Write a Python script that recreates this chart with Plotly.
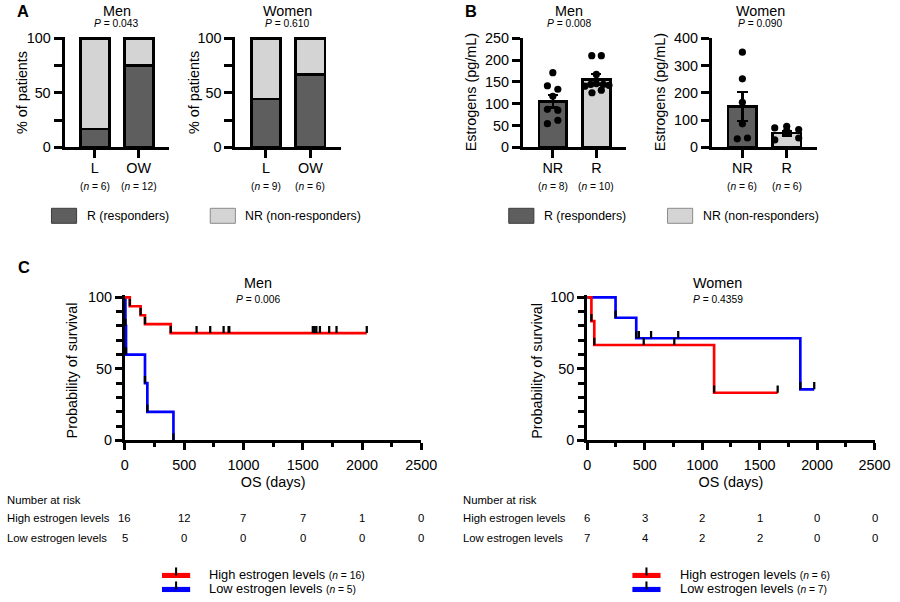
import plotly.graph_objects as go

# Measured rendering: picture = 0.973 * (page px), figure sits 8 px into the page.
S = 0.973
K = 1 / S
OFF = 8
W, H = 906, 602
FONT = "Liberation Sans, Arial, Helvetica, sans-serif"
DARK = "#5e5e5e"
LIGHT = "#d4d4d4"
RED = "#ff0000"
BLUE = "#0000ff"

# ---------------- DATA ----------------
# Panel A : % of patients (R = responders, NR = non-responders)
a_categories = ["L", "OW"]
a_men_n = [6, 12]
a_women_n = [9, 6]
a_men_r = [16.7, 75.0]
a_men_nr = [83.3, 25.0]
a_women_r = [44.4, 66.7]
a_women_nr = [55.6, 33.3]
a_men_p = "0.043"
a_women_p = "0.610"

# Panel B : estrogens (pg/mL)
b_categories = ["NR", "R"]
b_men_n = [8, 10]
b_women_n = [6, 6]
b_men_mean = [105, 156]
b_men_sem = [14, 12]
b_women_mean = [150, 52]
b_women_sem = [54, 9]
b_men_nr_pts = [171, 141, 133, 117, 87, 85, 62, 54]
b_men_r_pts = [210, 210, 167, 140, 144, 146, 144, 142, 125, 131]
b_women_nr_pts = [349, 251, 165, 86, 31, 34]
b_women_r_pts = [71, 77, 65, 27, 34, 61]
b_men_p = "0.008"
b_women_p = "0.090"

# horizontal scatter of the dots (category units)
b_men_nr_jit = [0, -0.125, 0.115, 0, -0.125, 0.115, 0.115, -0.125]
b_men_r_jit = [-0.105, 0.115, 0, -0.265, -0.13, 0, 0.16, 0.29, -0.1, 0.115]
b_women_nr_jit = [0, 0, 0, 0, -0.115, 0.115]
b_women_r_jit = [-0.27, 0, 0.27, -0.27, 0.27, 0]

# Panel C : Kaplan-Meier overall survival (days, %)
men_high_t = [0, 42, 133, 170, 387, 2040]
men_high_s = [100, 93.75, 87.5, 81.25, 75, 75]
men_high_cens = [605, 720, 833, 875, 881, 1585, 1600, 1615, 1645, 1723, 1785, 2040]
men_low_t = [0, 5, 10, 170, 190, 410]
men_low_s = [100, 80, 60, 40, 20, 0]
men_low_cens = []

women_high_t = [0, 37, 62, 1104, 1657]
women_high_s = [100, 83.33, 66.67, 33.33, 33.33]
women_high_cens = [492, 758, 1657]
women_low_t = [0, 247, 427, 1854, 1975]
women_low_s = [100, 85.71, 71.43, 35.71, 35.71]
women_low_cens = [450, 556, 792, 1975]

risk_days = [0, 500, 1000, 1500, 2000, 2500]
men_risk_high = [16, 12, 7, 7, 1, 0]
men_risk_low = [5, 0, 0, 0, 0, 0]
women_risk_high = [6, 3, 2, 1, 0, 0]
women_risk_low = [7, 4, 2, 2, 0, 0]
men_n_high, men_n_low = 16, 5
women_n_high, women_n_low = 6, 7
c_men_p = "0.006"
c_women_p = "0.4359"


# ---------------- helpers (picture pixel -> paper) ----------------
def px(x):
    return (x / S - OFF) / W


def py(y):
    return 1 - (y / S - OFF) / H


fig = go.Figure()
ann = []
shapes = []


def text(x, y, s, size=14, xanchor="center", xref="paper", angle=0, bold=False):
    if bold:
        s = "<b>" + s + "</b>"
    ann.append(dict(x=x if xref != "paper" else px(x), y=py(y), xref=xref, yref="paper",
                    text=s, showarrow=False, xanchor=xanchor, yanchor="middle",
                    textangle=angle, font=dict(family=FONT, size=size * K, color="black")))


LW = 2.5 * K
axis_common = dict(showline=True, linecolor="black", linewidth=LW, ticks="outside",
                   tickcolor="black", tickwidth=LW, showgrid=False, zeroline=False,
                   tickfont=dict(family=FONT, size=14 * K, color="black"), fixedrange=True)

layout_axes = {}


def cat_axes(idx, xdom, ytop, ybot, yrange, ytickvals, yticktext, cats, extend=True):
    xa = "xaxis" if idx == 1 else f"xaxis{idx}"
    ya = "yaxis" if idx == 1 else f"yaxis{idx}"
    span = yrange[1] - yrange[0]
    ext = span * 0.015 if extend else 0
    pxper = (ybot - ytop) / span
    layout_axes[xa] = dict(axis_common, domain=[px(xdom[0]), px(xdom[1])], range=[-0.69, 1.69],
                           tickvals=[0, 1], ticktext=cats, ticklen=8 * K,
                           anchor=f"y{'' if idx == 1 else idx}", ticklabelstandoff=-3)
    layout_axes[ya] = dict(axis_common, domain=[py(ybot), py(ytop - ext * pxper)],
                           range=[yrange[0], yrange[1] + ext], tickvals=ytickvals,
                           ticktext=yticktext, ticklen=8 * K, anchor=f"x{'' if idx == 1 else idx}")


TITLE_Y, P_Y = 11, 23

# ---------------- Panel A ----------------
for idx, (xdom, rv, nrv, nlist, title, pval, ylab_x, cx) in enumerate([
        ((68, 172), a_men_r, a_men_nr, a_men_n, "Men", a_men_p, 25, 120),
        ((238, 343), a_women_r, a_women_nr, a_women_n, "Women", a_women_p, 197, 290)], start=1):
    xr = "x" if idx == 1 else f"x{idx}"
    yr = "y" if idx == 1 else f"y{idx}"
    fig.add_trace(go.Bar(x=[0, 1], y=rv, xaxis=xr, yaxis=yr, width=0.66, marker_color=DARK,
                         marker_line=dict(color="black", width=LW), showlegend=False))
    fig.add_trace(go.Bar(x=[0, 1], y=nrv, xaxis=xr, yaxis=yr, width=0.66, marker_color=LIGHT,
                         marker_line=dict(color="black", width=LW), showlegend=False))
    cat_axes(idx, xdom, 38, 147, [0, 100], [0, 25, 50, 75, 100], ["0", "", "50", "", "100"], a_categories)
    text(cx, TITLE_Y, title, 14)
    text(cx, P_Y, f"<i>P</i> = {pval}", 10)
    text(ylab_x, 92.5, "% of patients", 14, angle=-90)
    for k, n in enumerate(nlist):
        text(k, 186, f"(<i>n</i> = {n})", 10, xref=xr)

# ---------------- Panel B ----------------
for j, (xdom, means, sems, nlist, pts, jits, title, pval, yrange, tv, ylab_x, cx) in enumerate([
        ((524, 627), b_men_mean, b_men_sem, b_men_n, [b_men_nr_pts, b_men_r_pts],
         [b_men_nr_jit, b_men_r_jit], "Men", b_men_p, [0, 250], [0, 50, 100, 150, 200, 250], 472, 570),
        ((712, 817), b_women_mean, b_women_sem, b_women_n, [b_women_nr_pts, b_women_r_pts],
         [b_women_nr_jit, b_women_r_jit], "Women", b_women_p, [0, 400], [0, 100, 200, 300, 400], 660, 760)]):
    idx = 3 + j
    xr, yr = f"x{idx}", f"y{idx}"
    fig.add_trace(go.Bar(x=[0, 1], y=means, xaxis=xr, yaxis=yr, width=0.64,
                         marker_color=[DARK, LIGHT], marker_line=dict(color="black", width=LW),
                         error_y=dict(type="data", array=sems, color="black", thickness=2.2 * K, width=5 * K),
                         showlegend=False))
    for k in range(2):
        fig.add_trace(go.Scatter(x=[k + d for d in jits[k]], y=pts[k], xaxis=xr, yaxis=yr,
                                 mode="markers", marker=dict(color="black", size=7 * K),
                                 cliponaxis=False, showlegend=False))
    cat_axes(idx, xdom, 38, 147, yrange, tv, [str(v) for v in tv], b_categories, extend=False)
    text(cx, TITLE_Y, title, 14)
    text(cx, P_Y, f"<i>P</i> = {pval}", 10)
    text(ylab_x, 92.5, "Estrogens (pg/mL)", 14, angle=-90)
    for k, n in enumerate(nlist):
        text(k, 186, f"(<i>n</i> = {n})", 10, xref=xr)

# Panel labels
text(27, 11, "A", 16, bold=True)
text(472, 11, "B", 16, bold=True)
text(28, 267, "C", 16, bold=True)

# Bar legends (A and B)
for lx in (55, 510):
    for off, col, border, lab in ((0, DARK, "#3c3c3c", "R (responders)"),
                                  (158, LIGHT, "#8a8a8a", "NR (non-responders)")):
        x0 = lx + off
        shapes.append(dict(type="rect", xref="paper", yref="paper", x0=px(x0), x1=px(x0 + 25),
                           y0=py(223), y1=py(208), fillcolor=col, line=dict(color=border, width=1)))
        text(x0 + 33, 215.5, lab, 12, xanchor="left")


# ---------------- Panel C ----------------
def km_panel(idx, xdom, curves, title, pval, ylab_x, risk_high, risk_low, nlab_x, nh, nl, leg_x, cx):
    xr, yr = f"x{idx}", f"y{idx}"
    ytop, ybot = 297, 440
    pxper = (ybot - ytop) / 100
    ext = 1.5
    layout_axes[f"xaxis{idx}"] = dict(axis_common, domain=[px(xdom[0]), px(xdom[1])], range=[0, 2500],
                                      tickvals=[0, 500, 1000, 1500, 2000, 2500], ticklen=7 * K,
                                      anchor=yr, ticklabelstandoff=2,
                                      minor=dict(dtick=250, tick0=0, ticklen=4 * K, tickwidth=LW,
                                                 tickcolor="black", ticks="outside", showgrid=False),
                                      title=dict(text="OS (days)", standoff=6,
                                                 font=dict(family=FONT, size=14 * K, color="black")))
    layout_axes[f"yaxis{idx}"] = dict(axis_common, domain=[py(ybot), py(ytop - ext * pxper)],
                                      range=[0, 100 + ext], tickvals=[0, 50, 100], ticklen=7 * K,
                                      anchor=xr,
                                      minor=dict(dtick=10, tick0=0, ticklen=6 * K, tickwidth=LW,
                                                 tickcolor="black", ticks="outside", showgrid=False))
    for t, s, cens, col in curves:
        fig.add_trace(go.Scatter(x=t, y=s, xaxis=xr, yaxis=yr, mode="lines",
                                 line=dict(color=col, width=2.6 * K, shape="hv"), showlegend=False))
    for t, s, cens, col in curves:
        marks = [(t[i], s[i]) for i in range(1, len(t)) if s[i] < s[i - 1]]
        for c in cens:
            sv = s[0]
            for i in range(len(t)):
                if t[i] <= c:
                    sv = s[i]
            marks.append((c, sv))
        for (mx, my) in marks:
            shapes.append(dict(type="line", xref=xr, yref=yr, x0=mx, x1=mx, ysizemode="pixel",
                               yanchor=my, y0=0, y1=7 * K, line=dict(color="black", width=2.2 * K)))
    text(cx, 283, title, 14)
    text(cx, 299, f"<i>P</i> = {pval}", 10)
    text(ylab_x, 370, "Probability of survival", 14, angle=-90)
    # number at risk
    text(nlab_x, 500, "Number at risk", 11, xanchor="left")
    text(nlab_x, 518, "High estrogen levels", 11, xanchor="left")
    text(nlab_x, 538, "Low estrogen levels", 11, xanchor="left")
    for d, v in zip(risk_days, risk_high):
        text(d, 518, str(v), 11, xref=xr)
    for d, v in zip(risk_days, risk_low):
        text(d, 538, str(v), 11, xref=xr)
    # legend
    for yy, col, lab in ((574, RED, f"High estrogen levels <span style='font-size:{10 * K:.1f}px'>(<i>n</i> = {nh})</span>"),
                         (588, BLUE, f"Low estrogen levels <span style='font-size:{10 * K:.1f}px'>(<i>n</i> = {nl})</span>")):
        shapes.append(dict(type="line", xref="paper", yref="paper", x0=px(leg_x), x1=px(leg_x + 28),
                           y0=py(yy + 1), y1=py(yy + 1), line=dict(color=col, width=5 * K)))
        shapes.append(dict(type="line", xref="paper", yref="paper", x0=px(leg_x + 14), x1=px(leg_x + 14),
                           y0=py(yy + 1), y1=py(yy - 7), line=dict(color="black", width=2 * K)))
        text(leg_x + 45, yy, lab, 12.5, xanchor="left")


km_panel(5, (128, 423),
         [(men_low_t, men_low_s, men_low_cens, BLUE), (men_high_t, men_high_s, men_high_cens, RED)],
         "Men", c_men_p, 75.5, men_risk_high, men_risk_low, 9, men_n_high, men_n_low, 165, 261)
km_panel(6, (588, 874),
         [(women_low_t, women_low_s, women_low_cens, BLUE), (women_high_t, women_high_s, women_high_cens, RED)],
         "Women", c_women_p, 538.5, women_risk_high, women_risk_low, 462, women_n_high, women_n_low, 633, 718)

fig.update_layout(
    width=W, height=H, margin=dict(l=0, r=0, t=0, b=0),
    paper_bgcolor="white", plot_bgcolor="white", barmode="stack",
    font=dict(family=FONT, size=14 * K, color="black"),
    showlegend=False, annotations=ann, shapes=shapes, **layout_axes)

fig.write_html("out.html")
